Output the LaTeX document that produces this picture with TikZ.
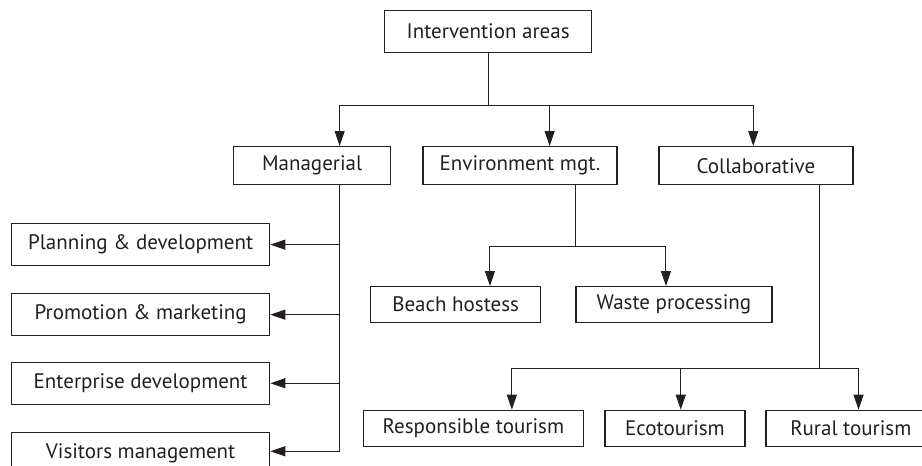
\documentclass[tikz,border=0pt]{standalone}
\usepackage{fontspec}
\setmainfont{PT Sans}
\usetikzlibrary{arrows.meta,positioning}
\definecolor{chartink}{HTML}{231F20}
\tikzset{
  areabox/.style={
    draw=chartink,
    line width=0.65pt,
    text=chartink,
    inner sep=0pt,
    anchor=north west,
    font=\fontsize{10.5}{12}\selectfont
  },
  topbox/.style={areabox, minimum width=103.5pt, minimum height=21pt},
  groupbox/.style={areabox, minimum width=97pt, minimum height=19pt},
  sidebox/.style={areabox, minimum width=129pt, minimum height=21pt},
  leafbox/.style={areabox, minimum height=18pt},
  link/.style={line width=0.5pt, draw=chartink},
  arrow/.style={link, -{Triangle[length=7.5pt,width=5pt]}}
}

\begin{document}
\begin{tikzpicture}
  \useasboundingbox (0,0) rectangle (461pt,-233pt);
  \clip (0,0) rectangle (461pt,-233pt);
  % top and second level
  \node[topbox] (areas) at (192pt,-5pt) {Intervention areas};
  \node[groupbox, minimum width=78.5pt] (mgr) at (116.5pt,-73pt) {Managerial};
  \node[groupbox, right=15.5pt of mgr] (env) {Environment mgt.};
  \node[groupbox, right=20.35pt of env] (collab) {Collaborative};
  % managerial column
  \node[sidebox] (plan) at (5.5pt,-111.5pt) {Planning \& development};
  \node[sidebox, below=13.35pt of plan] (promo) {Promotion \& marketing};
  \node[sidebox, below=12.65pt of promo] (enterp) {Enterprise development};
  \node[sidebox, below=13.35pt of enterp] (visit) {Visitors management};
  % environment leaves
  \node[leafbox, minimum width=85pt] (beach) at (185pt,-143pt) {Beach hostess};
  \node[leafbox, minimum width=98pt, right=17pt of beach] (waste) {Waste processing};
  % collaborative leaves
  \node[leafbox, minimum width=110pt] (resp) at (181.35pt,-204.85pt) {Responsible tourism};
  \node[leafbox, minimum width=70pt, right=10.15pt of resp] (eco) {Ecotourism};
  \node[leafbox, minimum width=85pt, right=9.8pt of eco] (rural) {Rural tourism};

  \draw[link] (areas.south) -- ++(0,-25.85pt) coordinate (abus);
  \draw[arrow] (abus) -| ([xshift=13.75pt]mgr.north);
  \draw[arrow] (abus) -| ([xshift=14.85pt]env.north);
  \draw[arrow] (abus) -| ([xshift=-1.35pt]collab.north);

  \draw[arrow] ([xshift=13.75pt]mgr.south) |- (plan.east);
  \draw[arrow] ([xshift=13.75pt]mgr.south) |- (promo.east);
  \draw[arrow] ([xshift=13.75pt]mgr.south) |- (enterp.east);
  \draw[arrow] ([xshift=13.75pt]mgr.south) |- ([yshift=1pt]visit.east);

  \draw[link] ([xshift=28pt]env.south) -- ++(0,-30.35pt) coordinate (ebus);
  \draw[arrow] (ebus) -| ([xshift=17.15pt]beach.north);
  \draw[arrow] (ebus) -| ([xshift=-4pt]waste.north);

  \draw[link] ([xshift=32pt]collab.south) -- ++(0,-91.65pt) coordinate (cbus);
  \draw[arrow] (cbus) -| ([xshift=19.25pt]resp.north);
  \draw[arrow] (cbus) -| ([xshift=2.9pt]eco.north);
  \draw[arrow] (cbus) -| ([xshift=3.85pt]rural.north);
\end{tikzpicture}
\end{document}
